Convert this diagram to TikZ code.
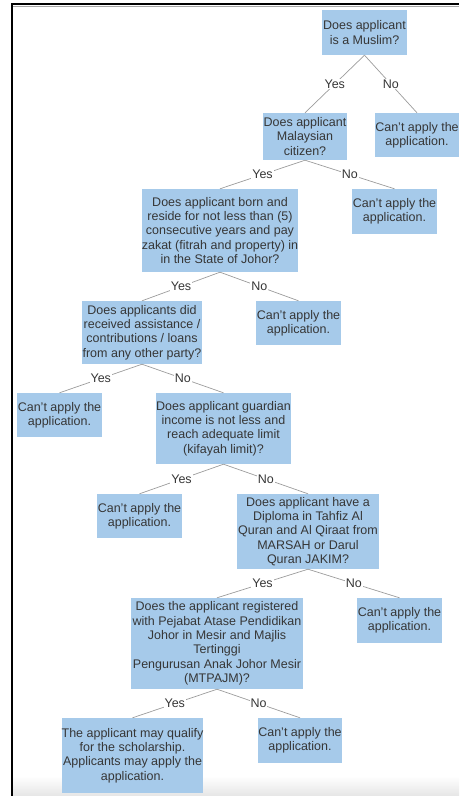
\documentclass[tikz,border=0pt]{standalone}
\usepackage{fontspec}
\setmainfont{Liberation Sans}
\definecolor{boxblue}{HTML}{A6CAEA}
\definecolor{ink}{HTML}{363636}
\definecolor{wirecol}{HTML}{9C9C9C}

\begin{document}
\begin{tikzpicture}[x=1pt,y=-1pt,
  q/.style={fill=boxblue, draw=none, inner sep=0pt, align=center, text=ink,
            font=\fontsize{12.5}{14.4}\selectfont},
  lab/.style={fill=white, inner sep=1pt, text=ink, font=\fontsize{12.5}{14.4}\selectfont},
  wire/.style={draw=wirecol, line width=0.7pt}]
\useasboundingbox (0,0) rectangle (459,796);

% faint grey fade along the bottom edge
\shade[top color=white, bottom color=black!10] (13,776) rectangle (459,796);

% frame
\draw[black!35, line width=1pt] (13,6.2) -- (459,6.2);
\draw[line width=1.8pt] (12,796) -- (12,4) -- (459,4);

% decision boxes
\node[q, minimum width=85,  minimum height=45] (b1)  at (364.5,32.5) {Does applicant\\is a Muslim?};
\node[q, minimum width=84,  minimum height=47] (b2)  at (305,136.5)  {Does applicant\\Malaysian\\citizen?};
\node[q, minimum width=84,  minimum height=44] (b3)  at (417,135)    {Can't apply the\\application.};
\node[q, minimum width=154, minimum height=83] (b4)  at (220,230.5)  {Does applicant born and\\reside for not less than (5)\\consecutive years and pay\\zakat (fitrah and property) in\\in the State of Johor?};
\node[q, minimum width=85,  minimum height=45] (b5)  at (394.5,211.5){Can't apply the\\application.};
\node[q, minimum width=120, minimum height=63] (b6)  at (142,332.5)  {Does applicants did\\received assistance /\\contributions / loans\\from any other party?};
\node[q, minimum width=85,  minimum height=44] (b7)  at (298.5,323)  {Can't apply the\\application.};
\node[q, minimum width=85,  minimum height=44] (b8)  at (59.5,415)   {Can't apply the\\application.};
\node[q, minimum width=133, minimum height=71] (b9)  at (223.5,428.5){Does applicant guardian\\income is not less and\\reach adequate limit\\(kifayah limit)?};
\node[q, minimum width=85,  minimum height=44] (b10) at (139.5,516)  {Can't apply the\\application.};
\node[q, minimum width=142, minimum height=75] (b11) at (308,531.5)  {Does applicant have a\\Diploma in Tahfiz Al\\Quran and Al Qiraat from\\MARSAH or Darul\\Quran JAKIM?};
\node[q, minimum width=172, minimum height=91] (b12) at (217,643.5)  {Does the applicant registered\\with Pejabat Atase Pendidikan\\Johor in Mesir and Majlis\\Tertinggi\\Pengurusan Anak Johor Mesir\\(MTPAJM)?};
\node[q, minimum width=85,  minimum height=45] (b13) at (399.5,620.5){Can't apply the\\application.};
\node[q, minimum width=141, minimum height=75] (b14) at (132.5,755.5){The applicant may qualify\\for the scholarship.\\Applicants may apply the\\application.};
\node[q, minimum width=84,  minimum height=45] (b15) at (300,740.5)  {Can't apply the\\application.};

% branches
\draw[wire] (b1.south)  -- node[lab]{Yes} (b2.north);
\draw[wire] (b1.south)  -- node[lab]{No}  (b3.north);
\draw[wire] (b2.south)  -- node[lab]{Yes} (b4.north);
\draw[wire] (b2.south)  -- node[lab]{No}  (b5.north);
\draw[wire] (b4.south)  -- node[lab]{Yes} (b6.north);
\draw[wire] (b4.south)  -- node[lab]{No}  (b7.north);
\draw[wire] (b6.south)  -- node[lab]{Yes} (b8.north);
\draw[wire] (b6.south)  -- node[lab]{No}  (b9.north);
\draw[wire] (b9.south)  -- node[lab]{Yes} (b10.north);
\draw[wire] (b9.south)  -- node[lab]{No}  (b11.north);
\draw[wire] (b11.south) -- node[lab]{Yes} (b12.north);
\draw[wire] (b11.south) -- node[lab]{No}  (b13.north);
\draw[wire] (b12.south) -- node[lab]{Yes} (b14.north);
\draw[wire] (b12.south) -- node[lab]{No}  (b15.north);
\end{tikzpicture}
\end{document}
